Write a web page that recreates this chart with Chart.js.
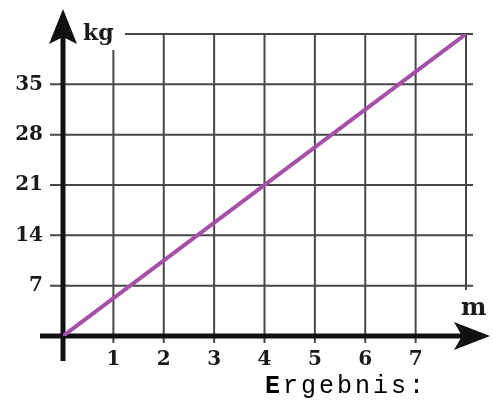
<!DOCTYPE html>
<html>
<head>
<meta charset="utf-8">
<script src="https://cdn.jsdelivr.net/npm/chart.js@4"></script>
<style>
  html, body { margin: 0; padding: 0; background: #fff; }
  #wrap { width: 493px; height: 403px; position: relative; }
</style>
</head>
<body>
<div id="wrap"><canvas id="myChart" width="493" height="403"></canvas></div>
<script>
// data
const meters = [0, 8];
const kilograms = [0, 42];
const xTicks = [1, 2, 3, 4, 5, 6, 7];
const yTicks = [7, 14, 21, 28, 35];
const xGrid = [1, 2, 3, 4, 5, 6, 7, 8];
const yGrid = [7, 14, 21, 28, 35, 42];
const xTitle = 'm';
const yTitle = 'kg';
const caption = 'Ergebnis:';

const gridPlugin = {
    id: 'gridPlugin',
    beforeDatasetsDraw(chart) {
        const ctx = chart.ctx;
        const xs = chart.scales.x, ys = chart.scales.y;
        const x0 = xs.getPixelForValue(0), y0 = ys.getPixelForValue(0);
        const yTop = ys.getPixelForValue(42);
        ctx.save();
        ctx.strokeStyle = '#474747';
        ctx.lineWidth = 2;
        // horizontal grid
        yGrid.forEach(v => {
            const y = ys.getPixelForValue(v);
            ctx.beginPath();
            ctx.moveTo(v === 42 ? 125 : x0 - 13, y);
            ctx.lineTo(xs.getPixelForValue(8) + 7, y);
            ctx.stroke();
        });
        // vertical grid
        xGrid.forEach(v => {
            const x = xs.getPixelForValue(v);
            ctx.beginPath();
            ctx.moveTo(x, v === 1 ? 50 : yTop);
            ctx.lineTo(x, v === 8 ? 290 : y0 + 7);
            ctx.stroke();
        });
        // axes
        ctx.strokeStyle = '#111';
        ctx.fillStyle = '#111';
        ctx.lineWidth = 5;
        ctx.beginPath();
        ctx.moveTo(x0, 361);
        ctx.lineTo(x0, 36);
        ctx.moveTo(40, y0);
        ctx.lineTo(462, y0);
        ctx.stroke();
        // arrow heads
        ctx.beginPath();
        ctx.moveTo(x0, 9);
        ctx.lineTo(x0 + 14, 44);
        ctx.lineTo(x0, 37);
        ctx.lineTo(x0 - 14, 44);
        ctx.closePath();
        ctx.fill();
        ctx.beginPath();
        ctx.moveTo(490, y0);
        ctx.lineTo(454, y0 - 14);
        ctx.lineTo(462, y0);
        ctx.lineTo(454, y0 + 14);
        ctx.closePath();
        ctx.fill();
        ctx.restore();
    },
    afterDraw(chart) {
        const ctx = chart.ctx;
        const xs = chart.scales.x, ys = chart.scales.y;
        ctx.save();
        ctx.fillStyle = '#1a1a1a';
        ctx.font = 'bold 20px "DejaVu Serif"';
        ctx.textAlign = 'right';
        ctx.textBaseline = 'middle';
        yTicks.forEach(v => ctx.fillText(String(v), 43, ys.getPixelForValue(v)));
        ctx.textAlign = 'center';
        xTicks.forEach(v => ctx.fillText(String(v), xs.getPixelForValue(v), 360));
        ctx.textAlign = 'left';
        ctx.textBaseline = 'alphabetic';
        ctx.font = 'bold 22px "DejaVu Serif"';
        ctx.fillText(yTitle, 83, 40);
        ctx.font = 'bold 24px "DejaVu Serif"';
        ctx.fillText(xTitle, 461, 315);
        // caption, first letter bold
        ctx.fillStyle = '#000';
        ctx.letterSpacing = '3px';
        ctx.font = 'bold 25px "Liberation Mono"';
        ctx.fillText(caption[0], 265, 393);
        const w = ctx.measureText(caption[0]).width;
        ctx.font = '25px "Liberation Mono"';
        ctx.fillText(caption.slice(1), 265 + w, 393);
        ctx.restore();
    }
};

new Chart(document.getElementById('myChart').getContext('2d'), {
    type: 'scatter',
    data: {
        datasets: [{
            data: meters.map((m, i) => ({ x: m, y: kilograms[i] })),
            showLine: true,
            borderColor: '#a64fa8',
            borderWidth: 4,
            pointRadius: 0,
            borderCapStyle: 'round'
        }]
    },
    options: {
        responsive: false,
        animation: false,
        layout: { padding: { left: 63, right: 27, top: 34, bottom: 67 } },
        plugins: { legend: { display: false }, tooltip: { enabled: false } },
        scales: {
            x: { type: 'linear', min: 0, max: 8, display: false },
            y: { type: 'linear', min: 0, max: 42, display: false }
        }
    },
    plugins: [gridPlugin]
});
</script>
</body>
</html>
